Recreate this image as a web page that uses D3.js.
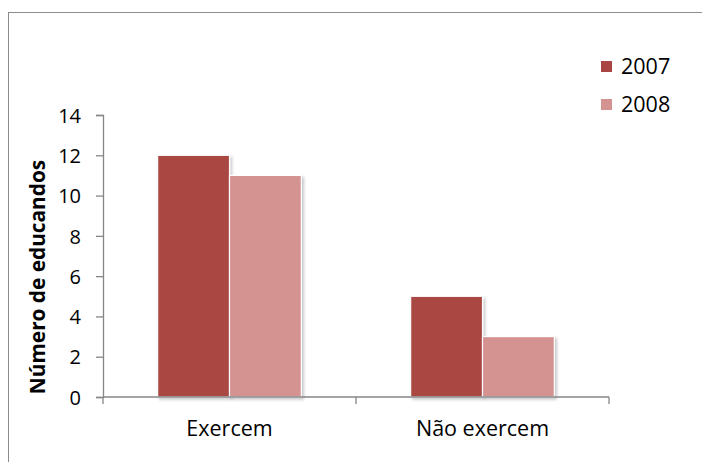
<!DOCTYPE html>
<html>
<head>
<meta charset="utf-8">
<script src="https://cdn.jsdelivr.net/npm/d3@7"></script>
<style>
  html, body { margin: 0; padding: 0; background: #fff; }
  svg { display: block; }
  text { font-family: "Open Sans", "Liberation Sans", sans-serif; fill: #000; }
</style>
</head>
<body>
<svg id="chart" width="702" height="462"></svg>
<script>
// Number of learners who practise / do not practise, by year
const categories = ["Exercem", "Não exercem"];
const seriesNames = ["2007", "2008"];
const values2007 = [12, 5];
const values2008 = [11, 3];
const yTicks = [0, 2, 4, 6, 8, 10, 12, 14];
const yTitle = "Número de educandos";
const colors = ["#A94643", "#D49391"];

const seriesValues = [values2007, values2008];

const svg = d3.select("#chart");

// shadow under the bars
const defs = svg.append("defs");
const f = defs.append("filter").attr("id", "shadow")
  .attr("x", "-10%").attr("y", "-10%").attr("width", "130%").attr("height", "130%");
f.append("feDropShadow").attr("dx", 2).attr("dy", 2).attr("stdDeviation", 1.6)
  .attr("flood-color", "#000").attr("flood-opacity", 0.22);

// outer frame
svg.append("rect").attr("x", 8.5).attr("y", 12.5).attr("width", 720).attr("height", 480)
  .attr("fill", "none").attr("stroke", "#8c8c8c").attr("stroke-width", 1);

const plot = { left: 103, right: 609, top: 115, bottom: 397 };

const x0 = d3.scaleBand().domain(categories)
  .range([plot.left, plot.right]).paddingInner(0.432).paddingOuter(0.216);
const x1 = d3.scaleBand().domain(seriesNames).range([0, x0.bandwidth()]);
const y = d3.scaleLinear().domain([0, 14]).range([plot.bottom, plot.top]);

// bars
const groups = svg.append("g").selectAll("g").data(categories).join("g")
  .attr("transform", d => `translate(${x0(d)},0)`);
groups.selectAll("rect")
  .data((c, i) => seriesNames.map((s, j) => ({ s, j, v: seriesValues[j][i] })))
  .join("rect")
  .attr("x", d => x1(d.s))
  .attr("y", d => y(d.v))
  .attr("width", x1.bandwidth())
  .attr("height", d => y(0) - y(d.v))
  .attr("fill", d => colors[d.j])
  .attr("stroke", "#fff").attr("stroke-width", 1.2)
  .attr("filter", "url(#shadow)");

// y axis
const yAxis = d3.axisLeft(y).tickValues(yTicks).tickSize(7).tickPadding(15);
const gy = svg.append("g").attr("transform", `translate(${plot.left},0)`).call(yAxis);
gy.select(".domain").attr("stroke", "#868686").attr("stroke-width", 1.3);
gy.selectAll(".tick line").attr("stroke", "#868686").attr("stroke-width", 1.3);
gy.selectAll(".tick text").style("font-size", "20px").attr("dy", "0.36em");

// x axis: boundaries between categories carry ticks
const gx = svg.append("g").attr("transform", `translate(0,${plot.bottom})`);
gx.append("line").attr("x1", plot.left).attr("x2", plot.right)
  .attr("stroke", "#868686").attr("stroke-width", 1.3);
const bounds = [plot.left, (plot.left + plot.right) / 2, plot.right];
gx.selectAll("line.tk").data(bounds).join("line").attr("class", "tk")
  .attr("x1", d => d).attr("x2", d => d).attr("y1", 0).attr("y2", 7)
  .attr("stroke", "#868686").attr("stroke-width", 1.3);
gx.selectAll("text").data(categories).join("text")
  .attr("x", d => x0(d) + x0.bandwidth() / 2)
  .attr("y", 39)
  .attr("text-anchor", "middle")
  .style("font-size", "21.5px")
  .text(d => d);

// y title
svg.append("text")
  .attr("transform", "translate(45,277) rotate(-90)")
  .attr("text-anchor", "middle")
  .style("font-size", "20.8px").style("font-weight", "bold")
  .text(yTitle);

// legend
const legend = svg.append("g").selectAll("g").data(seriesNames).join("g")
  .attr("transform", (d, i) => `translate(601,${61 + i * 38})`);
legend.append("rect").attr("width", 11).attr("height", 11).attr("fill", (d, i) => colors[i]);
legend.append("text").attr("x", 20).attr("y", 13).style("font-size", "21.5px").text(d => d);
</script>
</body>
</html>
